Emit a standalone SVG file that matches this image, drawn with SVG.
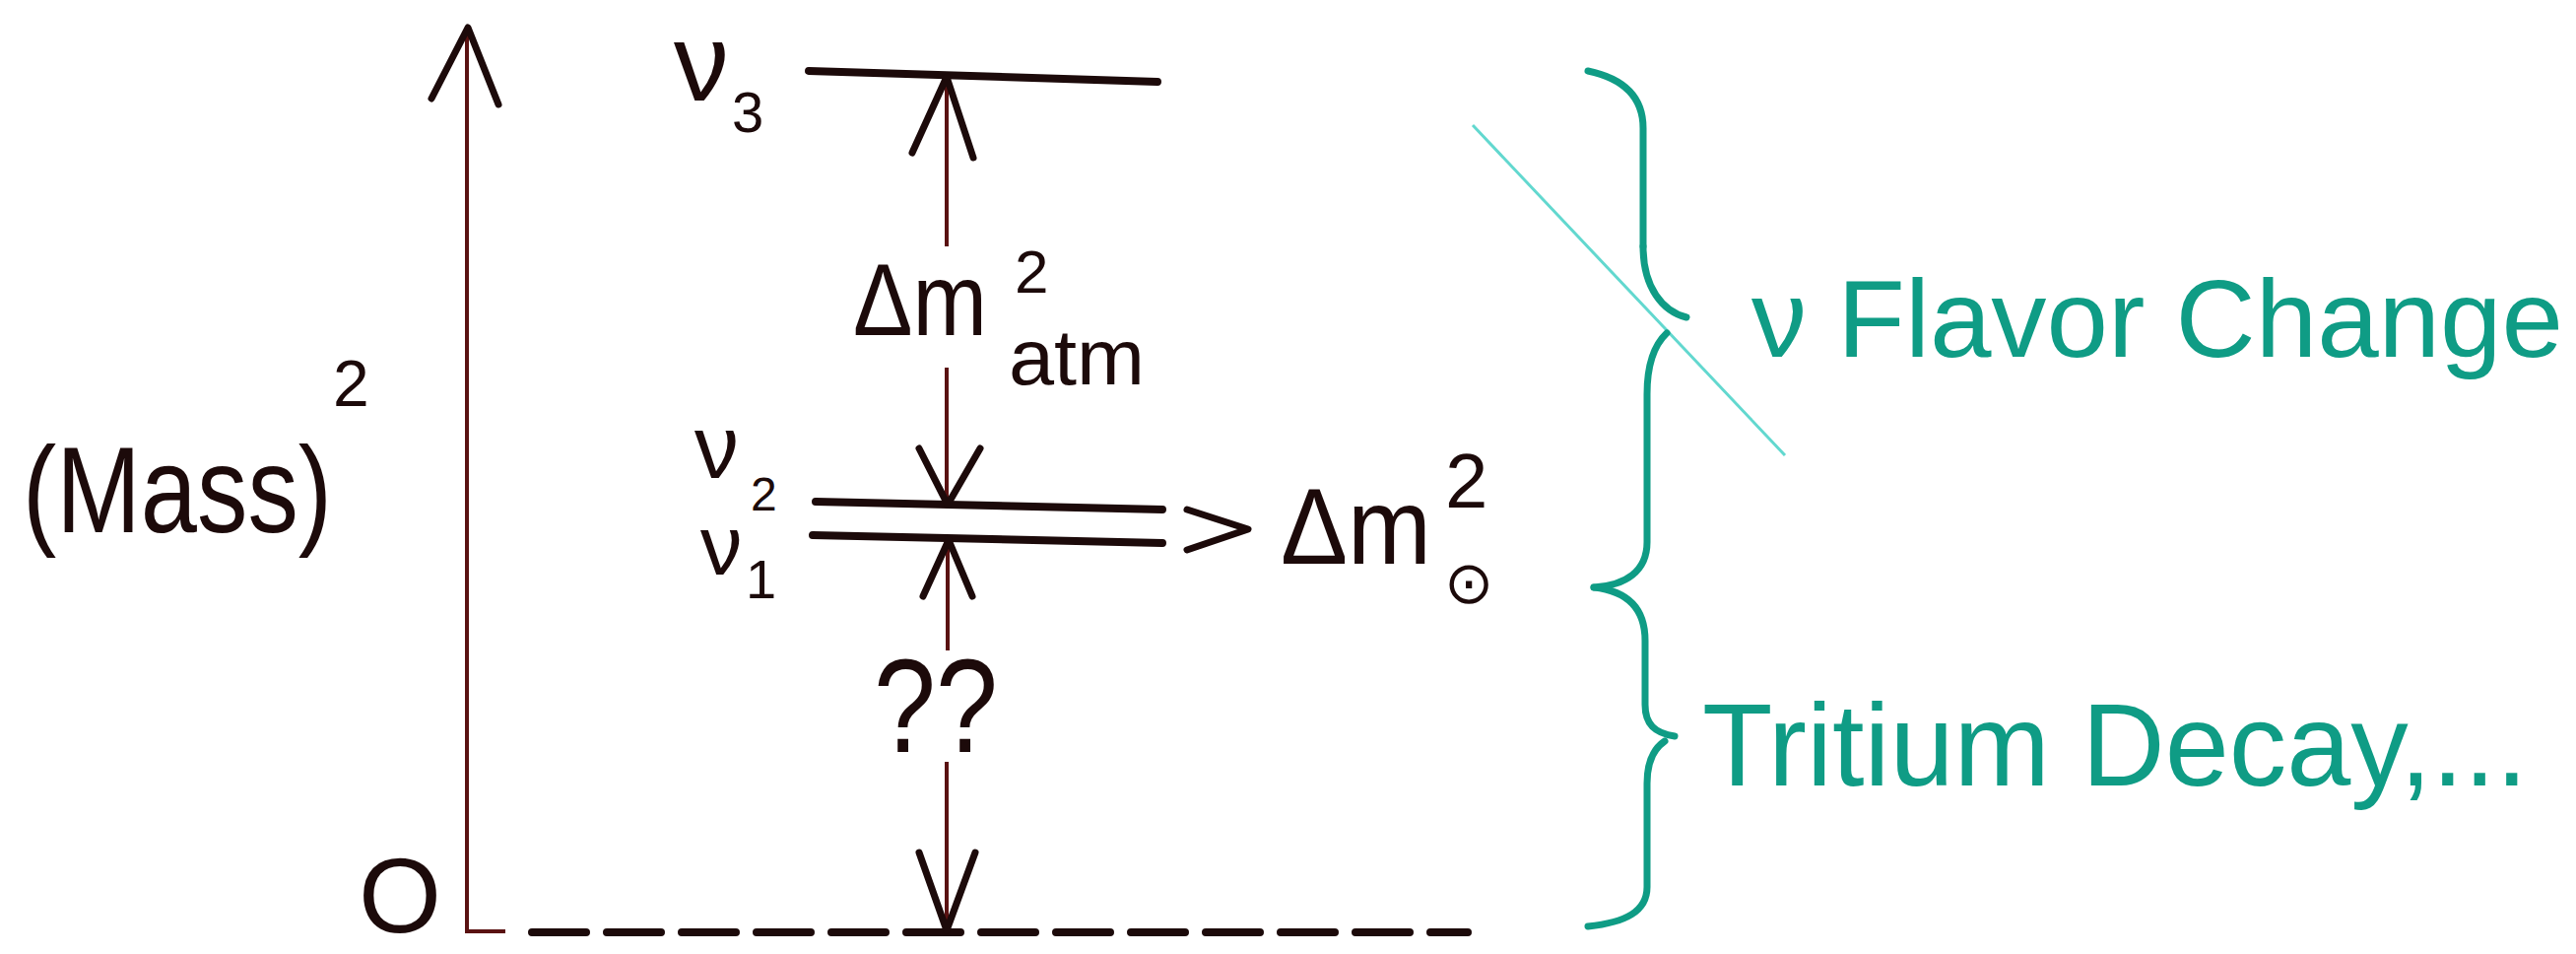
<svg xmlns="http://www.w3.org/2000/svg" width="2615" height="968" viewBox="0 0 2615 968">
<style>
.ink{fill:#1c0a0a;font-family:"Liberation Sans",Arial,sans-serif}
.tl{fill:#0f9c85;font-family:"Liberation Sans",Arial,sans-serif}
.lvl{stroke:#1c0a0a;stroke-width:8;stroke-linecap:round;fill:none}
.thin{stroke:#5a1212;stroke-width:4;fill:none}
.head{stroke:#1c0a0a;stroke-width:7;stroke-linecap:round;stroke-linejoin:round;fill:none}
.brace{stroke:#0f9c85;stroke-width:7;fill:none;stroke-linecap:round;stroke-linejoin:round}
</style>
<rect width="2615" height="968" fill="#ffffff"/>

<g id="axis">
  <path class="thin" d="M474,30 V945 H513"/>
  <path class="head" d="M438,100 L475,28 L506,106"/>
  <line class="lvl" x1="540" y1="946" x2="1490" y2="946" stroke-dasharray="55 21" stroke-linecap="butt" stroke-width="7"/>
  <text class="ink" x="364" y="946" font-size="108">O</text>
  <text class="ink" x="23" y="540" font-size="125" textLength="314" lengthAdjust="spacingAndGlyphs">(Mass)</text>
  <text class="ink" x="338" y="412" font-size="66">2</text>
</g>

<g id="nu3">
  <line class="lvl" x1="821" y1="72" x2="1175" y2="83" stroke-width="7"/>
  <text class="ink" x="684" y="102" font-size="112">ν</text>
  <text class="ink" x="743" y="134" font-size="58">3</text>
</g>

<g id="nu2">
  <line class="lvl" x1="828" y1="509" x2="1180" y2="517"/>
  <text class="ink" x="705" y="485" font-size="90">ν</text>
  <text class="ink" x="762" y="518" font-size="48">2</text>
</g>

<g id="nu1">
  <line class="lvl" x1="825" y1="543" x2="1180" y2="551"/>
  <text class="ink" x="711" y="583" font-size="85">ν</text>
  <text class="ink" x="757" y="607" font-size="56">1</text>
</g>

<g id="connectors">
  <line class="thin" x1="961" y1="80" x2="961" y2="250"/>
  <path class="head" d="M926,155 L961,78 L988,160"/>
  <line class="thin" x1="961" y1="373" x2="961" y2="512"/>
  <path class="head" d="M933,455 L962,512 L995,455"/>
  <line class="thin" x1="962" y1="548" x2="962" y2="660"/>
  <path class="head" d="M937,605 L963,548 L987,605"/>
  <line class="thin" x1="961" y1="773" x2="961" y2="944"/>
  <path class="head" d="M933,865 L961,944 L990,865"/>
  <path class="head" d="M1205,517 L1267,537 L1205,558" stroke-width="9"/>
</g>

<g id="dm-atm">
  <text class="ink" x="866" y="340" font-size="104" textLength="136" lengthAdjust="spacingAndGlyphs">Δm</text>
  <text class="ink" x="1030" y="297" font-size="62">2</text>
  <text class="ink" x="1024" y="390" font-size="80" textLength="138" lengthAdjust="spacingAndGlyphs">atm</text>
</g>

<g id="dm-sol">
  <text class="ink" x="1300" y="572" font-size="110" textLength="153" lengthAdjust="spacingAndGlyphs">Δm</text>
  <text class="ink" x="1467" y="515" font-size="78">2</text>
  <text class="ink" x="1466" y="612" font-size="60" font-family="DejaVu Sans, sans-serif">⊙</text>
</g>

<g id="unknown">
  <text class="ink" x="887" y="763" font-size="135" textLength="126" lengthAdjust="spacingAndGlyphs">??</text>
</g>

<g id="strike">
  <line x1="1495" y1="127" x2="1812" y2="462" stroke="#62d8cf" stroke-width="3"/>
</g>

<g id="brace-flavor">
  <path class="brace" d="M1612,72 C1650,80 1668,100 1668,130 L1668,250"/>
  <path class="brace" d="M1668,250 C1668,292 1688,316 1712,322" stroke="#1fc045" stroke-width="9"/>
  <path class="brace" d="M1692,338 C1677,352 1672,375 1672,400 L1672,550 C1672,580 1650,594 1618,596"/>
  <text class="tl" x="1778" y="362" font-size="112" textLength="824" lengthAdjust="spacingAndGlyphs">ν Flavor Change</text>
</g>

<g id="brace-tritium">
  <path class="brace" d="M1618,596 C1655,600 1670,620 1670,650 L1670,715 C1670,735 1680,744 1700,747"/>
  <path class="brace" d="M1690,752 C1678,760 1672,775 1672,795 L1672,900 C1672,925 1650,936 1612,940"/>
  <text class="tl" x="1728" y="797" font-size="118" textLength="838" lengthAdjust="spacingAndGlyphs">Tritium Decay,...</text>
</g>
</svg>
